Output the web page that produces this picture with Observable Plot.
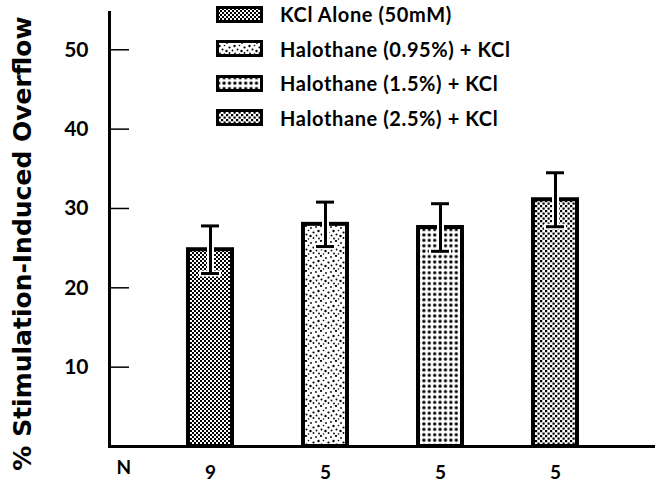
<!DOCTYPE html>
<html>
<head>
<meta charset="utf-8">
<script src="https://cdn.jsdelivr.net/npm/d3@7"></script>
<script src="https://cdn.jsdelivr.net/npm/@observablehq/plot@0.6"></script>
<style>
  html, body { margin: 0; padding: 0; background: #fff; }
  #wrap { position: relative; width: 661px; height: 484px; font-family: Lato, "DejaVu Sans", sans-serif; font-weight: 700; }
  #legend { position: absolute; left: 216px; top: -3px; }
  .row { display: flex; align-items: center; height: 34.5px; font-size: 20px; letter-spacing: 0.6px; color: #000; }
  .row svg { margin-right: 17px; }
</style>
</head>
<body>
<svg width="0" height="0" style="position:absolute">
  <defs>
    <pattern id="p0" patternUnits="userSpaceOnUse" width="4" height="4">
      <rect width="4" height="4" fill="#fff"/>
      <rect x="0" y="0" width="2" height="2" fill="#000"/>
      <rect x="2" y="2" width="2" height="2" fill="#000"/>
      <rect x="1" y="1" width="1" height="1" fill="#000"/>
    </pattern>
    <pattern id="p1" patternUnits="userSpaceOnUse" width="15" height="15">
      <rect width="15" height="15" fill="#fff"/>
      <circle cx="1" cy="2" r="0.9" fill="#000"/>
      <circle cx="6" cy="1" r="1.1" fill="#000"/>
      <circle cx="11" cy="3" r="0.9" fill="#000"/>
      <circle cx="3.5" cy="6" r="1.2" fill="#000"/>
      <circle cx="8.5" cy="5.5" r="0.8" fill="#000"/>
      <circle cx="13.5" cy="7.5" r="1.1" fill="#000"/>
      <circle cx="1.5" cy="10.5" r="0.9" fill="#000"/>
      <circle cx="6.5" cy="9.5" r="1" fill="#000"/>
      <circle cx="10.5" cy="11" r="1.2" fill="#000"/>
      <circle cx="4" cy="13.5" r="0.9" fill="#000"/>
      <circle cx="8.5" cy="14" r="0.8" fill="#000"/>
      <circle cx="13.5" cy="13" r="0.9" fill="#000"/>
    </pattern>
    <pattern id="p2" patternUnits="userSpaceOnUse" width="5.4" height="5.4">
      <rect width="5.4" height="5.4" fill="#fff"/>
      <circle cx="2.7" cy="2.7" r="1.65" fill="#000"/>
    </pattern>
    <pattern id="p3" patternUnits="userSpaceOnUse" width="5" height="5">
      <rect width="5" height="5" fill="#fff"/>
      <rect x="0" y="0" width="2.2" height="2.2" fill="#000"/>
      <rect x="2.5" y="2.5" width="2.2" height="2.2" fill="#000"/>
    </pattern>
  </defs>
</svg>
<div id="wrap"><div id="chart"></div><div id="legend"></div></div>
<script>
const groups = ["KCl Alone (50mM)", "Halothane (0.95%) + KCl", "Halothane (1.5%) + KCl", "Halothane (2.5%) + KCl"];
const means = [24.8, 28.0, 27.6, 31.1];
const sems = [3.0, 2.8, 3.0, 3.4];
const nLabels = ["9", "5", "5", "5"];
const yTicks = [10, 20, 30, 40, 50];
const yLabel = "% Stimulation-Induced Overflow";

const patternFor = Object.fromEntries(groups.map((g, i) => [g, `url(#p${i})`]));
const nFor = Object.fromEntries(groups.map((g, i) => [g, nLabels[i]]));
const data = groups.map((g, i) => ({group: g, mean: means[i], lo: means[i] - sems[i], hi: means[i] + sems[i]}));

const chart = Plot.plot({
  width: 661,
  height: 484,
  marginLeft: 109,
  marginRight: 6,
  marginTop: 12,
  marginBottom: 38,
  style: {fontFamily: "Lato, 'DejaVu Sans', sans-serif", fontWeight: "bold", color: "#000", background: "#fff"},
  x: {domain: groups, paddingInner: 0.583, paddingOuter: 0.66},
  y: {domain: [0, 54.7]},
  marks: [
    Plot.barY(data, {x: "group", y: "mean", fill: d => patternFor[d.group], stroke: "#000", strokeWidth: 4, insetLeft: 2, insetRight: 2}),
    Plot.ruleX(data, {x: "group", y1: "lo", y2: "hi", stroke: "#fff", strokeWidth: 7}),
    Plot.tickY(data, {x: "group", y: "lo", stroke: "#fff", strokeWidth: 6, insetLeft: 13, insetRight: 13}),
    Plot.ruleX(data, {x: "group", y1: "lo", y2: "hi", stroke: "#000", strokeWidth: 3}),
    Plot.tickY(data, {x: "group", y: "lo", stroke: "#000", strokeWidth: 3, insetLeft: 15, insetRight: 15}),
    Plot.tickY(data, {x: "group", y: "hi", stroke: "#000", strokeWidth: 3, insetLeft: 15, insetRight: 15}),
    Plot.frame({anchor: "left", stroke: "#000", strokeWidth: 3}),
    Plot.ruleY([0], {stroke: "#000", strokeWidth: 3}),
    Plot.axisY({ticks: yTicks, tickSize: -20, tickFormat: () => "", strokeWidth: 1.5, label: null}),
    Plot.text(yTicks, {y: d => d, text: d => String(d), frameAnchor: "left", textAnchor: "end", dx: -21, fontSize: 21}),
    Plot.axisX({tickSize: 0, tickPadding: 19, fontSize: 19, tickFormat: g => nFor[g], label: null}),
    Plot.text(["N"], {frameAnchor: "bottom-left", dx: 7, dy: 27, fontSize: 19}),
    Plot.text([yLabel], {frameAnchor: "left", textAnchor: "middle", rotate: -90, dx: -87, dy: 14, fontSize: 25, fontFamily: "'DejaVu Sans', sans-serif", fontWeight: "bold"})
  ]
});
document.getElementById("chart").appendChild(chart);

const legend = d3.select("#legend");
groups.forEach((g, i) => {
  const row = legend.append("div").attr("class", "row");
  const s = row.append("svg").attr("width", 47).attr("height", 17);
  s.append("rect").attr("x", 1.5).attr("y", 1.5).attr("width", 44).attr("height", 14)
    .attr("fill", patternFor[g]).attr("stroke", "#000").attr("stroke-width", 3);
  row.append("span").text(g);
});
</script>
</body>
</html>
